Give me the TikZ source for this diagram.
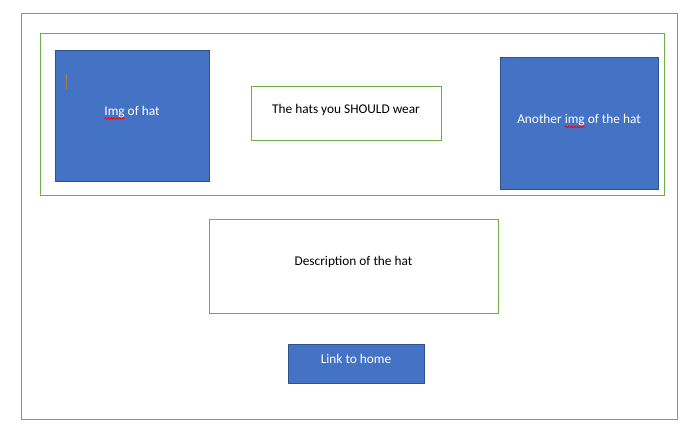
\documentclass[tikz,border=0pt]{standalone}
\usepackage{fontspec}
\setmainfont{Carlito}
\usetikzlibrary{decorations.pathmorphing}
\definecolor{hblue}{HTML}{4472C4}
\definecolor{hborder}{HTML}{2F528F}
\definecolor{hgreen}{HTML}{70AD47}
\definecolor{hcursor}{HTML}{A08050}
\tikzset{
  pxbox/.style 2 args={rectangle, inner sep=0pt, outer sep=0pt,
    minimum width=#1*0.75pt, minimum height=#2*0.75pt, line width=0.75pt},
  greenbox/.style={draw=hgreen},
  bluebox/.style={draw=hborder, fill=hblue},
  lbl/.style={anchor=base, inner sep=0pt, font=\fontsize{10}{12}\selectfont},
  whitelbl/.style={lbl, text=white},
  squiggle/.style={draw=red, line width=0.6pt, decorate,
    decoration={snake, amplitude=0.55pt, segment length=2.2pt}}
}
\begin{document}
\begin{tikzpicture}[x=0.75pt,y=-0.75pt]
\useasboundingbox (0,0) rectangle (688,441);
% frames
\node[pxbox={656}{405}, greenbox] (outer) at (349,216.5) {};
\node[pxbox={624}{162}, greenbox] (row) at (352,115) {};
% top row
\node[pxbox={154}{131}, bluebox] (img) at (132,116.5) {};
\node[pxbox={190}{54}, greenbox] (should) at (346,114) {};
\node[pxbox={158}{132}, bluebox] (another) at (579,124) {};
% lower boxes
\node[pxbox={289}{93}, greenbox] (desc) at (353.5,266.5) {};
\node[pxbox={136}{39}, bluebox] (link) at (356,363.5) {};
% texts
\node[whitelbl] (imgt) at (132,116) {Img of hat};
\node[lbl] (shouldt) at (346,114) {The hats you SHOULD wear};
\node[whitelbl] (anothert) at (579,124) {Another img of the hat};
\node[lbl] (desct) at (353.5,266) {Description of the hat};
\node[whitelbl] (linkt) at (356,363) {Link to home};
% spell-check marks and cursor
\coordinate (sq1a) at (104.5,118.5);
\coordinate (sq1b) at (124.5,118.5);
\coordinate (sq2a) at (565,127);
\coordinate (sq2b) at (585,127);
\draw[squiggle] (sq1a) -- (sq1b);
\draw[squiggle] (sq2a) -- (sq2b);
\coordinate (cura) at (66,74);
\coordinate (curb) at (66,89);
\draw[hcursor, line width=0.75pt] (cura) -- (curb);
\end{tikzpicture}
\end{document}
